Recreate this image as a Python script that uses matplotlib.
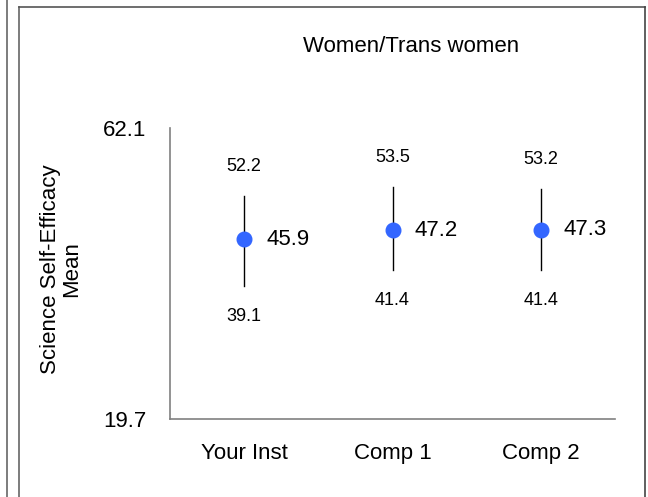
import matplotlib
matplotlib.use("Agg")
import matplotlib.pyplot as plt
from matplotlib.lines import Line2D

plt.rcParams['font.family'] = ['Liberation Sans', 'DejaVu Sans']

# data
groups = ["Your Inst", "Comp 1", "Comp 2"]
means = [45.9, 47.2, 47.3]
upper = [52.2, 53.5, 53.2]
lower = [39.1, 41.4, 41.4]
y_min, y_max = 19.7, 62.1

W, H = 648, 497
fig = plt.figure(figsize=(W / 100, H / 100), dpi=100)
ax = fig.add_axes([170 / W, 1 - 419 / H, 445 / W, 291 / H])

x = list(range(len(groups)))
for i in x:
    ax.plot([i, i], [lower[i], upper[i]], color="black", lw=1.0, zorder=2)
ax.plot(x, means, "o", color="#3366ff", ms=10.5, zorder=3, linestyle="none")

for i in x:
    ax.annotate(f"{upper[i]:.1f}", (i, upper[i]), xytext=(0, 21.5), textcoords="offset points",
                ha="center", va="center", fontsize=13)
    ax.annotate(f"{lower[i]:.1f}", (i, lower[i]), xytext=(0, -22), textcoords="offset points",
                ha="center", va="center", fontsize=13)
    ax.annotate(f"{means[i]:.1f}", (i, means[i]), xytext=(16, 0), textcoords="offset points",
                ha="left", va="center", fontsize=16)

ax.set_xlim(-0.5, len(groups) - 0.5)
ax.set_ylim(y_min, y_max)
ax.set_xticks(x)
ax.set_xticklabels(groups, fontsize=16)
ax.set_yticks([y_min, y_max])
ax.set_yticklabels([f"{y_min}", f"{y_max}"], fontsize=16)
ax.tick_params(length=0, pad=17)
for s in ["top", "right"]:
    ax.spines[s].set_visible(False)
for s in ["left", "bottom"]:
    ax.spines[s].set_color("#808080")
    ax.spines[s].set_linewidth(1.2)

# y label and title placed as in the reference
fig.text(61 / W, 1 - 269 / H, "Science Self-Efficacy\nMean", rotation=90, ha="center", va="center",
         multialignment="center", fontsize=16, linespacing=1.05)
fig.text(411 / W, 1 - 47 / H, "Women/Trans women", ha="center", va="center", fontsize=16)

# frame lines around the panel
def fline(x0, y0, x1, y1, c):
    fig.add_artist(Line2D([x0 / W, x1 / W], [1 - y0 / H, 1 - y1 / H],
                          transform=fig.transFigure, color=c, lw=1.2))

fline(7, 0, 7, H, "#666666")
fline(19, 7, 19, H, "#666666")
fline(19, 7, 645, 7, "#555555")
fline(645, 7, 645, H, "#444444")

fig.savefig("out.png", dpi=100)
